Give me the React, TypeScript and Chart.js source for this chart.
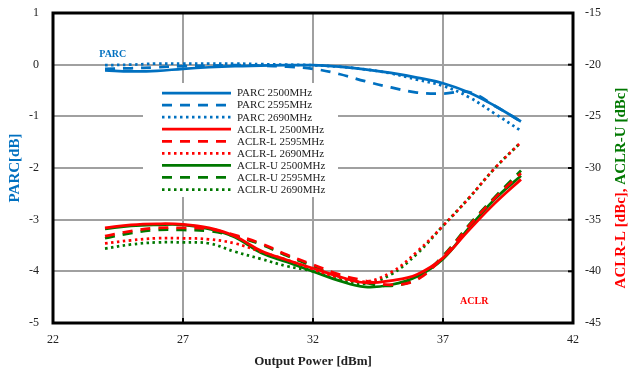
import React, { useEffect, useRef } from 'react';
import { Chart, registerables } from 'chart.js';

Chart.register(...registerables);

// ---- data ----
const outputPower = [24, 25, 26, 27, 28, 29, 30, 31, 32, 33, 34, 35, 36, 37, 38, 39, 40];

const parc2500 = [-0.11, -0.13, -0.12, -0.08, -0.05, -0.03, -0.02, -0.01, -0.01, -0.04, -0.09, -0.16, -0.25, -0.36, -0.54, -0.8, -1.1];
const parc2595 = [-0.08, -0.07, -0.05, -0.03, -0.02, -0.01, -0.02, -0.04, -0.08, -0.18, -0.32, -0.44, -0.54, -0.56, -0.53, -0.8, -1.1];
const parc2690 = [-0.01, 0.0, 0.02, 0.02, 0.02, 0.02, 0.01, 0.0, -0.01, -0.04, -0.09, -0.17, -0.29, -0.41, -0.63, -0.95, -1.28];

const aclrL2500 = [-35.8, -35.5, -35.4, -35.45, -35.8, -36.6, -38.0, -38.9, -39.7, -40.5, -41.1, -40.9, -40.3, -38.7, -36.0, -33.4, -31.1];
const aclrL2595 = [-36.6, -36.1, -35.8, -35.8, -35.9, -36.5, -37.3, -38.4, -39.35, -40.3, -40.9, -41.3, -40.8, -38.6, -35.6, -32.9, -30.5];
const aclrL2690 = [-37.3, -37.0, -36.8, -36.8, -36.9, -37.3, -38.1, -38.9, -39.8, -40.6, -41.0, -40.1, -38.1, -35.6, -32.9, -30.0, -27.5];

const aclrU2500 = [-35.9, -35.6, -35.5, -35.5, -35.9, -36.7, -38.2, -39.1, -40.0, -40.9, -41.5, -41.3, -40.5, -38.8, -35.8, -33.0, -30.75];
const aclrU2595 = [-36.8, -36.3, -36.0, -36.0, -36.1, -36.6, -37.4, -38.5, -39.5, -40.5, -41.1, -41.4, -40.7, -38.5, -35.5, -32.8, -30.25];
const aclrU2690 = [-37.8, -37.4, -37.2, -37.2, -37.3, -38.1, -38.8, -39.5, -40.0, -40.8, -41.2, -40.3, -38.3, -35.6, -32.9, -30.0, -27.5];

const seriesLabels = [
  'PARC 2500MHz', 'PARC 2595MHz', 'PARC 2690MHz',
  'ACLR-L 2500MHz', 'ACLR-L 2595MHz', 'ACLR-L 2690MHz',
  'ACLR-U 2500MHz', 'ACLR-U 2595MHz', 'ACLR-U 2690MHz',
];

const xRange = [22, 42];
const parcRange = [-5, 1];
const aclrRange = [-45, -15];

const BLUE = '#0070C0';
const RED = '#FF0000';
const GREEN = '#007800';
const FONT = "'Liberation Serif', 'Times New Roman', serif";
const SOLID: number[] = [];
const DASH = [10, 8];
const DOT = [2.5, 3.5];

function mk(label: string, values: number[], color: string, dash: number[], axis: string) {
  return {
    label,
    data: values.map((v, i) => ({ x: outputPower[i], y: v })),
    borderColor: color,
    backgroundColor: color,
    borderDash: dash,
    borderWidth: 2.75,
    borderCapStyle: 'butt' as const,
    pointRadius: 0,
    tension: 0.4,
    fill: false,
    yAxisID: axis,
  };
}

const framePlugin = {
  id: 'frameAndLegend',
  afterDatasetsDraw(chart: any) {
    const { ctx, chartArea } = chart;
    const { left, top, right, bottom } = chartArea;
    ctx.save();
    // legend box
    const bx = left + 90, by = top + 70;
    ctx.fillStyle = '#ffffff';
    ctx.fillRect(bx, by, 195, 114);
    chart.data.datasets.forEach((ds: any, i: number) => {
      const yy = top + 80 + i * 12.07;
      ctx.beginPath();
      ctx.strokeStyle = ds.borderColor;
      ctx.lineWidth = 2.75;
      ctx.lineCap = 'butt';
      ctx.setLineDash(ds.borderDash || []);
      ctx.moveTo(left + 109, yy);
      ctx.lineTo(left + 178, yy);
      ctx.stroke();
      ctx.setLineDash([]);
      ctx.fillStyle = '#222';
      ctx.font = `11px ${FONT}`;
      ctx.textAlign = 'left';
      ctx.textBaseline = 'middle';
      ctx.fillText(ds.label, left + 184, yy + 0.5);
    });

    // annotations
    const xs = chart.scales.x;
    const ys = chart.scales.y;
    ctx.font = `bold 10px ${FONT}`;
    ctx.textAlign = 'center';
    ctx.textBaseline = 'middle';
    ctx.fillStyle = BLUE;
    ctx.fillText('PARC', xs.getPixelForValue(24.3), ys.getPixelForValue(0.19));
    ctx.fillStyle = RED;
    ctx.fillText('ACLR', xs.getPixelForValue(38.2), ys.getPixelForValue(-4.59));

    // inward ticks on right & bottom
    ctx.strokeStyle = '#000';
    ctx.lineWidth = 2;
    ys.ticks.forEach((t: any) => {
      const py = ys.getPixelForValue(t.value);
      ctx.beginPath();
      ctx.moveTo(right - 5, py);
      ctx.lineTo(right, py);
      ctx.stroke();
    });
    xs.ticks.forEach((t: any) => {
      const px = xs.getPixelForValue(t.value);
      ctx.beginPath();
      ctx.moveTo(px, bottom - 5);
      ctx.lineTo(px, bottom);
      ctx.stroke();
    });

    // frame
    ctx.lineWidth = 3;
    ctx.strokeRect(left, top, right - left, bottom - top);

    // right axis title (two colours)
    const partA = 'ACLR-L [dBc], ';
    const partB = 'ACLR-U [dBc]';
    ctx.font = `bold 15px ${FONT}`;
    const wA = ctx.measureText(partA).width;
    const wB = ctx.measureText(partB).width;
    const cy = (top + bottom) / 2 + 20;
    ctx.translate(chart.width - 9, cy);
    ctx.rotate(-Math.PI / 2);
    ctx.textAlign = 'left';
    ctx.textBaseline = 'middle';
    const start = -(wA + wB) / 2;
    ctx.fillStyle = RED;
    ctx.fillText(partA, start, 0);
    ctx.fillStyle = GREEN;
    ctx.fillText(partB, start + wA, 0);
    ctx.restore();
  },
};

export default function App() {
  const ref = useRef<HTMLCanvasElement | null>(null);

  useEffect(() => {
    document.body.style.margin = '0';
    if (!ref.current) return;
    const styles: [number[], string, number[], string][] = [
      [parc2500, BLUE, SOLID, 'y'],
      [parc2595, BLUE, DASH, 'y'],
      [parc2690, BLUE, DOT, 'y'],
      [aclrL2500, RED, SOLID, 'y2'],
      [aclrL2595, RED, DASH, 'y2'],
      [aclrL2690, RED, DOT, 'y2'],
      [aclrU2500, GREEN, SOLID, 'y2'],
      [aclrU2595, GREEN, DASH, 'y2'],
      [aclrU2690, GREEN, DOT, 'y2'],
    ];
    const datasets = styles.map((s, i) => mk(seriesLabels[i], s[0], s[1], s[2], s[3]));
    const tickFont = { family: FONT, size: 12 };
    const chart = new Chart(ref.current, {
      type: 'line',
      data: { datasets },
      options: {
        animation: false,
        responsive: false,
        devicePixelRatio: 1,
        layout: { padding: { top: 13, left: 0, right: 0, bottom: 0 } },
        plugins: { legend: { display: false }, tooltip: { enabled: false } },
        scales: {
          x: {
            type: 'linear',
            min: xRange[0],
            max: xRange[1],
            ticks: { stepSize: 5, font: tickFont, color: '#222', padding: 10 },
            grid: { color: '#a0a0a0', lineWidth: 2, drawTicks: false },
            border: { display: false },
            title: { display: true, text: 'Output Power [dBm]', font: { family: FONT, size: 13, weight: 'bold' }, color: '#222', padding: { top: 0, bottom: 2 } },
            afterFit: (s: any) => { s.height = 48; s.paddingLeft = 0; s.paddingRight = 0; },
          },
          y: {
            type: 'linear',
            position: 'left',
            min: parcRange[0],
            max: parcRange[1],
            ticks: { stepSize: 1, font: tickFont, color: '#222', padding: 14 },
            grid: { color: '#a0a0a0', lineWidth: 2, drawTicks: false },
            border: { display: false },
            title: { display: true, text: 'PARC[dB]', font: { family: FONT, size: 15, weight: 'bold' }, color: BLUE, padding: { top: 6, bottom: 0 } },
            afterFit: (s: any) => { s.width = 53; s.paddingTop = 0; s.paddingBottom = 0; },
          },
          y2: {
            type: 'linear',
            position: 'right',
            min: aclrRange[0],
            max: aclrRange[1],
            ticks: { stepSize: 5, font: tickFont, color: '#222', padding: 12 },
            grid: { drawOnChartArea: false, drawTicks: false },
            border: { display: false },
            afterFit: (s: any) => { s.width = 57; s.paddingTop = 0; s.paddingBottom = 0; },
          },
        },
      },
      plugins: [framePlugin],
    });
    return () => chart.destroy();
  }, []);

  return (
    <div style={{ width: 630, height: 371 }}>
      <canvas ref={ref} width={630} height={371} />
    </div>
  );
}
